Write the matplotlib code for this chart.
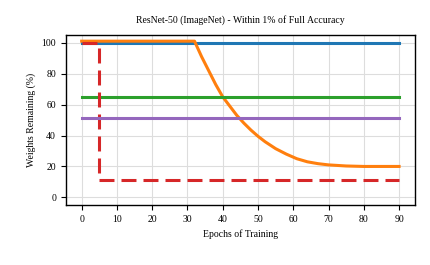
import numpy as np
import matplotlib.pyplot as plt

plt.rcParams['font.family'] = ['Liberation Serif', 'DejaVu Serif']
plt.rcParams['mathtext.fontset'] = 'stix'

# flat baselines (weights remaining, %)
dense = 100
green_level = 65
purple_level = 51

# gradual pruning curve
orange_x = [0, 32, 34, 36, 38, 40, 42, 44, 46, 48, 50, 52, 55, 58, 61, 64, 67, 70, 75, 80, 90]
orange_y = [101, 101, 91, 82, 73, 65, 59, 53, 48, 43.5, 39.5, 36, 31.5, 28, 25, 23, 21.8, 21, 20.3, 20, 20]

# one-shot pruning at epoch 5
red_x = [0, 5, 5, 90]
red_y = [99.5, 99.5, 11, 11]

fig = plt.figure(figsize=(4.3, 2.65), dpi=100)
ax = fig.add_axes([0.153, 0.226, 0.812, 0.642])

ax.plot([0, 90], [dense, dense], color='#1f77b4', lw=2.2)
ax.plot(orange_x, orange_y, color='#ff7f0e', lw=2.2)
ax.plot([0, 90], [green_level, green_level], color='#2ca02c', lw=2.2)
ax.plot(red_x, red_y, color='#d62728', lw=2.2, ls=(0, (4.9, 2.3)))
ax.plot([0, 90], [purple_level, purple_level], color='#9467bd', lw=2.2)

ax.set_xlim(-4.5, 94.5)
ax.set_ylim(-5, 105)
ax.set_xticks(np.arange(0, 91, 10))
ax.set_yticks(np.arange(0, 101, 20))
ax.grid(True, color='#dddddd', lw=0.8)
ax.set_axisbelow(True)
for s in ax.spines.values():
    s.set_color('black')
    s.set_linewidth(1.0)
ax.tick_params(labelsize=7, length=3.5, width=0.8, direction='out')

ax.set_title('ResNet-50 (ImageNet) - Within 1% of Full Accuracy', fontsize=7, pad=9)
ax.set_xlabel('Epochs of Training', fontsize=7)
ax.set_ylabel('Weights Remaining (%)', fontsize=7)

fig.savefig('out.png', dpi=100)
